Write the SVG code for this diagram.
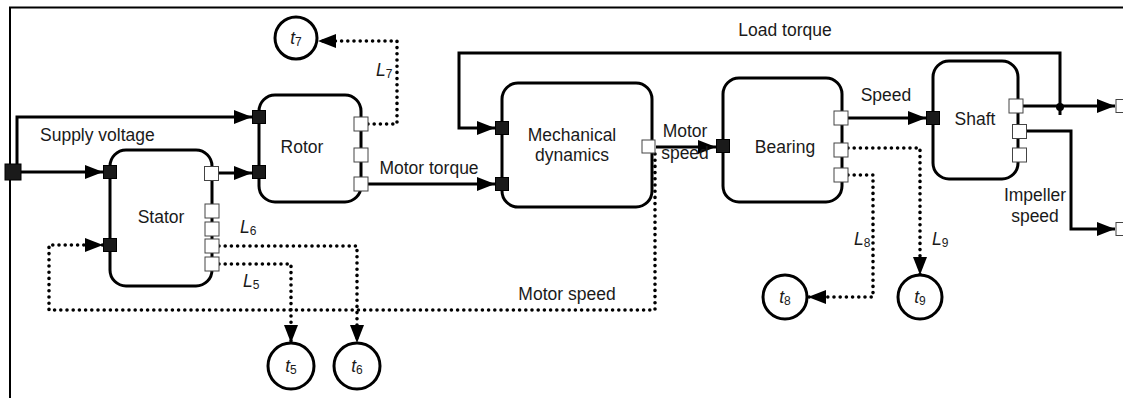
<svg xmlns="http://www.w3.org/2000/svg" width="1123" height="398" viewBox="0 0 1123 398">
<style>
.node{fill:#fff;stroke:#000;stroke-width:3}
.lbl{font-family:"Liberation Sans",Arial,sans-serif;font-size:17.5px;fill:#1a1a1a}
.mid{text-anchor:middle}
.it{font-style:italic}
.sub{font-size:12px}
.pb{fill:#1a1a1a;stroke:#000;stroke-width:1}
.pw{fill:#fff;stroke:#444;stroke-width:1}
.solid{fill:none;stroke:#000;stroke-width:3}
.dot{fill:none;stroke:#000;stroke-width:3.6;stroke-dasharray:0 6.2;stroke-linecap:round}
.circ{fill:#fff;stroke:#000;stroke-width:3}
.frame{fill:none;stroke:#000;stroke-width:2}
</style>
<defs>
<marker id="arr" markerUnits="userSpaceOnUse" markerWidth="19" markerHeight="15" refX="18" refY="7.5" orient="auto">
<path d="M0,0.5 L18,7.5 L0,14.5 z" fill="#000" stroke="none"/>
</marker>
</defs>
<rect width="1123" height="398" fill="#fff"/>
<path class="frame" d="M10,398 V7.5 H1123"/>

<g id="connectors">
<path class="solid" d="M20,172 H103" marker-end="url(#arr)"/>
<path class="solid" d="M17,172 V117 H252" marker-end="url(#arr)"/>
<path class="solid" d="M219,173 H252" marker-end="url(#arr)"/>
<path class="solid" d="M368,184 H495" marker-end="url(#arr)"/>
<path class="solid" d="M1060,115 V53 H459 V128 H495" marker-end="url(#arr)"/>
<path class="solid" d="M656,147 H716" marker-end="url(#arr)"/>
<path class="solid" d="M848,118 H926" marker-end="url(#arr)"/>
<path class="solid" d="M1023,106 H1115" marker-end="url(#arr)"/>
<path class="solid" d="M1026,131 H1071 V229 H1115" marker-end="url(#arr)"/>
<circle cx="1060" cy="107" r="4" fill="#000"/>
<path class="dot" d="M368,124 H397 V41 H318" marker-end="url(#arr)"/>
<path class="dot" d="M655,154 V310 H49 V245 H103" marker-end="url(#arr)"/>
<path class="dot" d="M219,246 H357 V343" marker-end="url(#arr)"/>
<path class="dot" d="M219,264 H291 V343" marker-end="url(#arr)"/>
<path class="dot" d="M848,148 H920 V275" marker-end="url(#arr)"/>
<path class="dot" d="M848,175 H873 V297 H808" marker-end="url(#arr)"/>
<text class="lbl" x="40" y="141">Supply voltage</text>
<text class="lbl mid" x="429" y="174">Motor torque</text>
<text class="lbl mid" x="785" y="36">Load torque</text>
<text class="lbl mid" x="685" y="137">Motor</text>
<text class="lbl mid" x="685" y="159">speed</text>
<text class="lbl mid" x="886" y="101">Speed</text>
<text class="lbl mid" x="1035" y="201">Impeller</text>
<text class="lbl mid" x="1035" y="222">speed</text>
<text class="lbl mid" x="567" y="300">Motor speed</text>
<text class="lbl" x="376" y="76"><tspan class="it">L</tspan><tspan class="sub" dy="2">7</tspan></text>
<text class="lbl" x="240" y="233"><tspan class="it">L</tspan><tspan class="sub" dy="2">6</tspan></text>
<text class="lbl" x="243" y="287"><tspan class="it">L</tspan><tspan class="sub" dy="2">5</tspan></text>
<text class="lbl" x="854" y="245"><tspan class="it">L</tspan><tspan class="sub" dy="2">8</tspan></text>
<text class="lbl" x="932" y="245"><tspan class="it">L</tspan><tspan class="sub" dy="2">9</tspan></text>
</g>

<g id="supply">
<rect class="pb" x="5" y="164" width="16" height="16"/>
</g>

<g id="stator">
<rect class="node" x="110" y="150" width="102" height="136" rx="16"/>
<text class="lbl mid" x="161" y="223">Stator</text>
<rect class="pb" x="103.5" y="165.5" width="13" height="13"/>
<rect class="pb" x="103.5" y="238.5" width="13" height="13"/>
<rect class="pw" x="204.5" y="166.5" width="14" height="14"/>
<rect class="pw" x="205" y="204" width="14" height="14"/>
<rect class="pw" x="205" y="222" width="14" height="14"/>
<rect class="pw" x="205" y="239" width="14" height="14"/>
<rect class="pw" x="205" y="257" width="14" height="14"/>
</g>

<g id="rotor">
<rect class="node" x="259" y="95" width="102" height="107" rx="16"/>
<text class="lbl mid" x="302" y="153">Rotor</text>
<rect class="pb" x="252.5" y="110.5" width="13" height="13"/>
<rect class="pb" x="252.5" y="165.5" width="13" height="13"/>
<rect class="pw" x="354" y="117" width="14" height="14"/>
<rect class="pw" x="354" y="148" width="14" height="14"/>
<rect class="pw" x="354" y="177" width="14" height="14"/>
</g>

<g id="mechanical">
<rect class="node" x="502" y="83" width="150" height="124" rx="16"/>
<text class="lbl mid" x="572" y="141">Mechanical</text>
<text class="lbl mid" x="572" y="161">dynamics</text>
<rect class="pb" x="495.5" y="121.5" width="13" height="13"/>
<rect class="pb" x="495.5" y="177.5" width="13" height="13"/>
<rect class="pw" x="642" y="140" width="13" height="13"/>
</g>

<g id="bearing">
<rect class="node" x="723" y="78" width="119" height="124" rx="16"/>
<text class="lbl mid" x="785" y="153">Bearing</text>
<rect class="pb" x="716.5" y="139.5" width="13" height="13"/>
<rect class="pw" x="834" y="111" width="14" height="14"/>
<rect class="pw" x="834" y="143" width="14" height="14"/>
<rect class="pw" x="834" y="168" width="14" height="14"/>
</g>

<g id="shaft">
<rect class="node" x="933" y="61" width="85" height="118" rx="16"/>
<text class="lbl mid" x="975" y="125">Shaft</text>
<rect class="pb" x="926.5" y="111.5" width="13" height="13"/>
<rect class="pw" x="1009" y="99" width="14" height="14"/>
<rect class="pw" x="1012.5" y="124.5" width="14" height="14"/>
<rect class="pw" x="1012.5" y="148" width="14" height="14"/>
</g>

<g id="out1"><rect class="pw" x="1116" y="99.5" width="13" height="13"/></g>
<g id="out2"><rect class="pw" x="1116" y="222.5" width="13" height="13"/></g>

<g id="t5"><circle class="circ" cx="291" cy="366" r="23"/><text class="lbl mid" x="291" y="372"><tspan class="it">t</tspan><tspan class="sub" dy="2">5</tspan></text></g>
<g id="t6"><circle class="circ" cx="357" cy="366" r="23"/><text class="lbl mid" x="357" y="372"><tspan class="it">t</tspan><tspan class="sub" dy="2">6</tspan></text></g>
<g id="t7"><circle class="circ" cx="296" cy="38" r="21"/><text class="lbl mid" x="296" y="44"><tspan class="it">t</tspan><tspan class="sub" dy="2">7</tspan></text></g>
<g id="t8"><circle class="circ" cx="785" cy="297" r="22"/><text class="lbl mid" x="785" y="303"><tspan class="it">t</tspan><tspan class="sub" dy="2">8</tspan></text></g>
<g id="t9"><circle class="circ" cx="920" cy="297" r="22"/><text class="lbl mid" x="920" y="303"><tspan class="it">t</tspan><tspan class="sub" dy="2">9</tspan></text></g>
</svg>
